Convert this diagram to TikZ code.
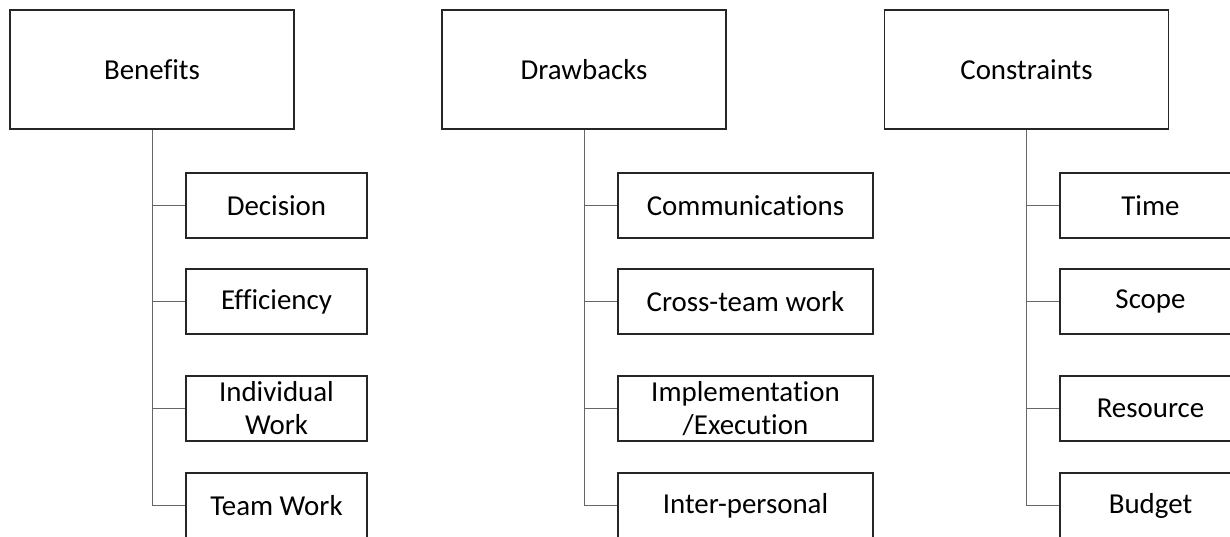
\documentclass[tikz,border=0pt]{standalone}
\usepackage{fontspec}
\setmainfont[Ligatures={NoCommon,NoContextual}]{Carlito}
\begin{document}
\begin{tikzpicture}[x=1bp,y=-1bp,
  every node/.style={font=\fontsize{29}{33}\selectfont, text=black},
  head/.style={draw=black!85, line width=1.3bp, minimum width=284bp, minimum height=119bp, inner sep=0pt},
  item/.style={draw=black!85, line width=1.3bp, minimum height=65bp, inner sep=0pt, align=center},
  narrow/.style={item, minimum width=181bp},
  wide/.style={item, minimum width=255bp},
  link/.style={draw=black!60, line width=1bp}]
\useasboundingbox (0,0) rectangle (1230,537);
\clip (0,0) rectangle (1230,537);

% column headers
\node[head] (ben) at (152,69.5) {Benefits};
\node[head] (dra) at (584,69.5) {Drawbacks};
\node[head] (con) at (1026.5,69.5) {Constraints};

% Benefits
\node[narrow] (b1) at (276.5,205.5) {Decision};
\node[narrow] (b2) at (276.5,301.5) {Efficiency};
\node[narrow] (b3) at (276.5,408.5) {Individual\\Work};
\node[narrow] (b4) at (276.5,505.5) {Team Work};

% Drawbacks
\node[wide] (d1) at (745.5,205.5) {Communications};
\node[wide] (d2) at (745.5,301.5) {Cross-team work};
\node[wide] (d3) at (745.5,408.5) {Implementation\\/Execution};
\node[wide] (d4) at (745.5,505.5) {Inter-personal};

% Constraints
\node[narrow] (c1) at (1150.5,205.5) {Time};
\node[narrow] (c2) at (1150.5,301.5) {Scope};
\node[narrow] (c3) at (1150.5,408.5) {Resource};
\node[narrow] (c4) at (1150.5,505.5) {Budget};

% connectors
\foreach \p/\c in {ben/b, dra/d, con/c}{
  \draw[link] (\p.south) -- (\p.south |- \c4.west);
  \foreach \i in {1,...,4}{
    \draw[link] (\p.south |- \c\i.west) -- (\c\i.west);
  }
}
\end{tikzpicture}
\end{document}
